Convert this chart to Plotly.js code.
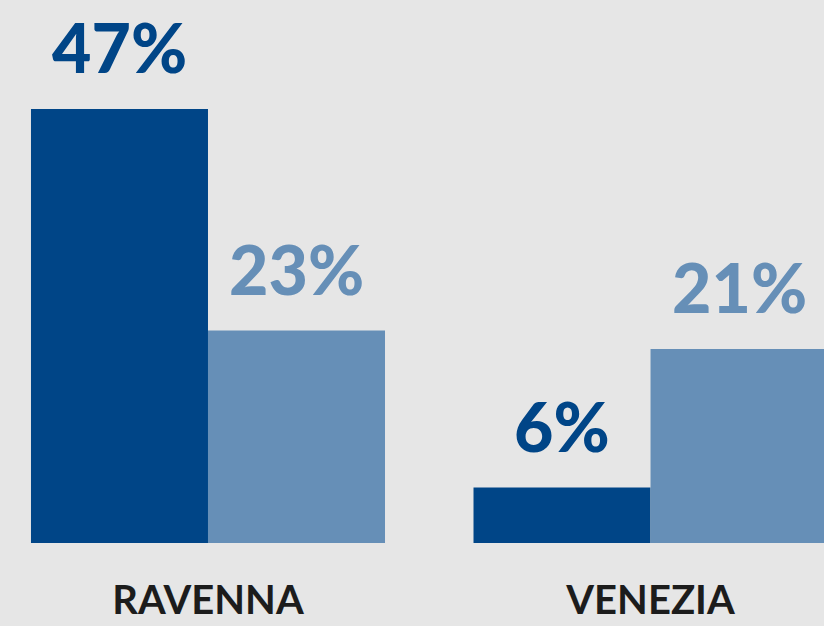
<!DOCTYPE html>
<html>
<head>
<meta charset="utf-8">
<script src="https://cdn.plot.ly/plotly-3.0.1.min.js"></script>
<style>
  html, body { margin: 0; padding: 0; background: #e6e6e6; }
  #chart { width: 824px; height: 626px; }
</style>
</head>
<body>
<div id="chart"></div>
<script>
// Dati
const cities = ["RAVENNA", "VENEZIA"];
const seriesA = [47, 6];
const seriesB = [23, 21];
const colorA = "#004587";
const colorB = "#668fb7";

const barWidth = 0.4; // ogni barra occupa 0.4 unita' di categoria

let traceA = {
    x: cities,
    y: seriesA,
    type: 'bar',
    marker: { color: colorA },
    hoverinfo: 'none'
};

let traceB = {
    x: cities,
    y: seriesB,
    type: 'bar',
    marker: { color: colorB },
    hoverinfo: 'none'
};

// Etichette percentuali sopra le barre
let annotations = [];
function addLabels(values, offset, color) {
    values.forEach((v, i) => {
        annotations.push({
            x: i + offset,
            y: v,
            xref: 'x',
            yref: 'y',
            text: v + '%',
            showarrow: false,
            yanchor: 'bottom',
            yshift: 20,
            font: { family: 'Lato, "Noto Sans", sans-serif', size: 68, color: color, weight: 900 }
        });
    });
}
addLabels(seriesA, -barWidth / 2, colorA);
addLabels(seriesB, barWidth / 2, colorB);

let layout = {
    width: 824,
    height: 626,
    margin: { t: 0, b: 83, l: 0, r: 0 },
    paper_bgcolor: '#e6e6e6',
    plot_bgcolor: '#e6e6e6',
    showlegend: false,
    barmode: 'group',
    bargap: 0.2,
    bargroupgap: 0,
    xaxis: {
        type: 'category',
        range: [-0.47, 1.392],
        showgrid: false,
        zeroline: false,
        showline: false,
        ticks: '',
        ticklabelstandoff: 30,
        tickfont: { family: 'Lato, "Noto Sans", sans-serif', size: 40, color: '#1c1c1c', weight: 700 }
    },
    yaxis: {
        range: [0, 58.8],
        showgrid: false,
        zeroline: false,
        showline: false,
        showticklabels: false,
        ticks: ''
    },
    annotations: annotations
};

Plotly.newPlot('chart', [traceA, traceB], layout, { displayModeBar: false, staticPlot: true });
</script>
</body>
</html>
